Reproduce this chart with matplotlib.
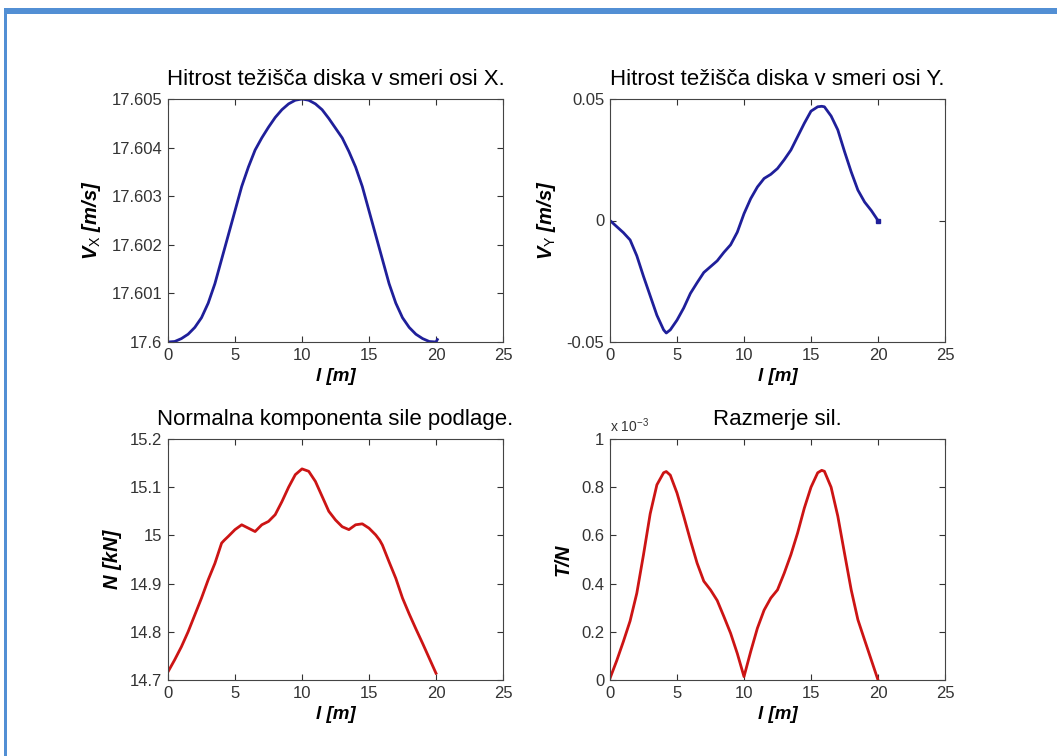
import numpy as np
import matplotlib
matplotlib.use("Agg")
import matplotlib.pyplot as plt
from matplotlib.patches import Rectangle

plt.rcParams['font.family'] = ['Liberation Sans', 'DejaVu Sans']
plt.rcParams['mathtext.fontset'] = 'custom'
plt.rcParams['mathtext.rm'] = 'Liberation Sans'
plt.rcParams['mathtext.it'] = 'Liberation Sans:italic:bold'
plt.rcParams['mathtext.bf'] = 'Liberation Sans:bold'

# ----------------------------
# data
# ----------------------------
l_vx = [0, 0.5, 1, 1.5, 2, 2.5, 3, 3.5, 4, 4.5, 5, 5.5, 6, 6.5, 7, 7.5, 8, 8.5, 9, 9.5,
        10, 10.5, 11, 11.5, 12, 12.5, 13, 13.5, 14, 14.5, 15, 15.5, 16, 16.5, 17, 17.5, 18,
        18.5, 19, 19.5, 20, 20.1]
vx = [17.6, 17.60001, 17.60007, 17.60016, 17.6003, 17.6005, 17.6008, 17.6012, 17.6017, 17.6022,
      17.6027, 17.6032, 17.6036, 17.60395, 17.6042, 17.60442, 17.60462, 17.60478, 17.6049, 17.604975,
      17.6050, 17.604975, 17.6049, 17.60478, 17.6046, 17.6044, 17.6042, 17.60392, 17.6036, 17.6032,
      17.6027, 17.6022, 17.6017, 17.6012, 17.6008, 17.6005, 17.6003,
      17.60016, 17.60007, 17.60001, 17.6, 17.60005]

l_half = [0, 0.5, 1, 1.5, 2, 2.5, 3, 3.5, 4, 4.2, 4.5, 5, 5.5, 6, 6.5, 7, 7.5, 8, 8.5, 9, 9.5, 10,
          10.5, 11, 11.5, 12, 12.5, 13, 13.5, 14, 14.5, 15, 15.5, 15.8, 16, 16.5, 17, 17.5, 18,
          18.5, 19, 19.5, 20]
vy = [0, -0.0025, -0.005, -0.008, -0.0145, -0.023, -0.031, -0.039, -0.045, -0.0463, -0.045, -0.041,
      -0.036, -0.030, -0.0256, -0.0214, -0.019, -0.0166, -0.0131, -0.010, -0.0048, 0.0028,
      0.009, 0.0138, 0.0173, 0.019, 0.0214, 0.025, 0.029, 0.0345, 0.040, 0.045, 0.0468, 0.0470,
      0.0468, 0.043, 0.0373, 0.0284, 0.020, 0.0125, 0.0076, 0.0041, 0.0]

n_kn = [14.717, 14.742, 14.769, 14.8, 14.835, 14.87, 14.908, 14.942, 14.984, 14.99, 14.998, 15.012,
        15.022, 15.015, 15.008, 15.022, 15.029, 15.043, 15.07, 15.10, 15.126, 15.138,
        15.133, 15.112, 15.081, 15.05, 15.032, 15.018, 15.012, 15.022, 15.024, 15.015, 15.001, 14.99,
        14.98, 14.945, 14.911, 14.87, 14.837, 14.806, 14.776, 14.745, 14.714]

# T/N in units of 1e-3
tn_e3 = [0.007, 0.08, 0.16, 0.245, 0.36, 0.52, 0.69, 0.81, 0.86, 0.865, 0.85, 0.776,
         0.68, 0.58, 0.485, 0.41, 0.374, 0.33, 0.263, 0.194, 0.11, 0.014,
         0.118, 0.215, 0.29, 0.34, 0.374, 0.443, 0.52, 0.61, 0.713, 0.80, 0.86, 0.87,
         0.866, 0.80, 0.68, 0.526, 0.374, 0.25, 0.166, 0.083, 0.0]

x_ticks = [0, 5, 10, 15, 20, 25]
vx_ticks = [17.6, 17.601, 17.602, 17.603, 17.604, 17.605]
vy_ticks = [-0.05, 0, 0.05]
n_ticks = [14.7, 14.8, 14.9, 15.0, 15.1, 15.2]
tn_ticks = [0, 0.2, 0.4, 0.6, 0.8, 1.0]

titles = ["Hitrost težišča diska v smeri osi X.", "Hitrost težišča diska v smeri osi Y.",
          "Normalna komponenta sile podlage.", "Razmerje sil."]

BLUE = "#1f1f9a"
RED = "#cc1414"

fig = plt.figure(figsize=(10.57, 7.56), dpi=100)
W, H = 1057, 756


def make_ax(left, top, right, bottom):
    return fig.add_axes([left / W, (H - bottom) / H, (right - left) / W, (bottom - top) / H])


ax1 = make_ax(168, 99, 503, 342)
ax2 = make_ax(610, 99, 945, 342)
ax3 = make_ax(168, 439, 503, 680)
ax4 = make_ax(610, 439, 945, 680)

ax1.plot(l_vx, vx, color=BLUE, lw=2)
ax2.plot(l_half, vy, color=BLUE, lw=2)
ax2.plot(l_half[-1:], vy[-1:], color=BLUE, marker="s", ms=3)
ax3.plot(l_half, n_kn, color=RED, lw=2)
ax4.plot(l_half, tn_e3, color=RED, lw=2)

setup = [
    (ax1, vx_ticks, ["17.6", "17.601", "17.602", "17.603", "17.604", "17.605"], r"$V_{\mathrm{X}}$ [m/s]"),
    (ax2, vy_ticks, ["-0.05", "0", "0.05"], r"$V_{\mathrm{Y}}$ [m/s]"),
    (ax3, n_ticks, ["14.7", "14.8", "14.9", "15", "15.1", "15.2"], "N [kN]"),
    (ax4, tn_ticks, ["0", "0.2", "0.4", "0.6", "0.8", "1"], "T/N"),
]

for (ax, yt, ylab, ytxt), ttl in zip(setup, titles):
    ax.set_xlim(0, 25)
    ax.set_ylim(yt[0], yt[-1])
    ax.set_xticks(x_ticks)
    ax.set_xticklabels([str(t) for t in x_ticks])
    ax.set_yticks(yt)
    ax.set_yticklabels(ylab)
    ax.tick_params(direction="in", top=True, right=True, length=4, width=0.8,
                   labelsize=12, labelcolor="#333333", color="#333333", pad=4)
    for s in ax.spines.values():
        s.set_color("#444444")
        s.set_linewidth(0.8)
    ax.set_title(ttl, fontsize=16, pad=10)
    ax.set_xlabel("l [m]", fontsize=13.5, style="italic", weight="bold", labelpad=4)
    ax.set_ylabel(ytxt, fontsize=14.5, style="italic", weight="bold", labelpad=6)

ax4.text(0.0, 1.015, r"x 10$^{-3}$", transform=ax4.transAxes, fontsize=10,
         color="#333333", ha="left", va="bottom")

# blue frame of the page
fig.add_artist(Rectangle((4 / W, (H - 14) / H), 1 - 4 / W, 6 / H, transform=fig.transFigure,
                         color="#528fd4", lw=0))
fig.add_artist(Rectangle((4 / W, 0), 3 / W, (H - 8) / H, transform=fig.transFigure,
                         color="#528fd4", lw=0))

fig.savefig("out.png", dpi=100)
